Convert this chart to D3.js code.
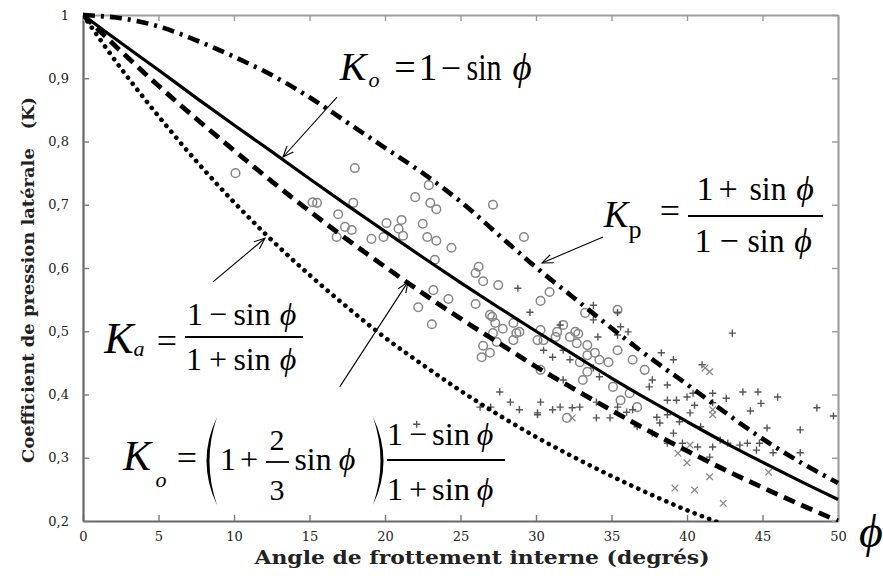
<!DOCTYPE html>
<html><head><meta charset="utf-8">
<script src="https://cdn.jsdelivr.net/npm/d3@7"></script>
<style>body{margin:0;background:#fff}</style>
</head><body><svg id="c" width="883" height="576"></svg>
<script>
// ---------- data ----------
const phiGrid = [0,2.5,5,7.5,10,12.5,15,17.5,20,22.5,25,27.5,30,32.5,35,37.5,40,42.5,45,47.5,50];
const kSolid   = [1,0.956,0.913,0.869,0.826,0.784,0.741,0.699,0.658,0.617,0.577,0.538,0.5,0.463,0.426,0.391,0.357,0.324,0.293,0.263,0.234];
const kDashed  = [1,0.943,0.888,0.836,0.786,0.737,0.690,0.645,0.602,0.560,0.520,0.482,0.444,0.409,0.375,0.342,0.311,0.281,0.253,0.226,0.200];
const kDotted  = [1,0.916,0.840,0.769,0.704,0.644,0.589,0.538,0.490,0.447,0.406,0.368,0.333,0.301,0.271,0.243,0.217,0.194];
const kDashDot = [1,0.995,0.982,0.960,0.934,0.905,0.870,0.830,0.790,0.750,0.705,0.653,0.601,0.553,0.505,0.459,0.416,0.372,0.330,0.293,0.260];

const circleData = [[10.1,0.750],[18.0,0.758],[15.2,0.704],[15.5,0.703],[17.9,0.703],[16.9,0.685],[17.35,0.665],[17.8,0.660],[16.8,0.649],[19.1,0.646],[19.9,0.649],[20.1,0.671],[21.1,0.676],[20.9,0.662],[21.2,0.651],[22.0,0.712],[22.9,0.731],[23.0,0.703],[23.4,0.693],[22.5,0.670],[22.8,0.649],[23.4,0.643],[24.4,0.632],[23.3,0.613],[26.2,0.602],[26.0,0.592],[26.5,0.579],[27.5,0.573],[27.15,0.700],[29.2,0.649],[23.2,0.565],[24.2,0.551],[22.2,0.538],[23.1,0.511],[26.0,0.543],[26.95,0.526],[27.3,0.513],[27.8,0.504],[28.5,0.513],[28.9,0.499],[30.3,0.548],[30.9,0.562],[30.3,0.502],[31.4,0.499],[31.8,0.510],[32.6,0.499],[32.25,0.491],[26.5,0.477],[27.4,0.483],[26.4,0.459],[26.95,0.466],[27.15,0.497],[28.7,0.497],[28.5,0.486],[30.1,0.486],[30.5,0.486],[31.3,0.491],[32.8,0.496],[32.7,0.481],[33.4,0.478],[33.9,0.466],[33.4,0.462],[34.2,0.455],[34.8,0.451],[32.9,0.451],[33.4,0.436],[35.4,0.470],[33.25,0.529],[35.4,0.534],[36.4,0.455],[37.2,0.439],[30.3,0.439],[32.05,0.363],[33.1,0.423],[35.1,0.412],[36.2,0.402],[35.6,0.391],[36.7,0.380],[27.1,0.523]];

const plusData = [[28.8,0.568],[29.6,0.530],[31.6,0.510],[33.8,0.541],[35.4,0.530],[33.8,0.518],[34.1,0.491],[35.6,0.507],[36.1,0.499],[35.4,0.494],[37.7,0.423],[37.5,0.412],[38.7,0.415],[39.3,0.391],[40.0,0.396],[38.3,0.466],[39.1,0.455],[41.0,0.447],[43.0,0.497],[40.4,0.402],[41.7,0.402],[42.6,0.394],[43.7,0.404],[44.7,0.404],[46.0,0.396],[48.6,0.379],[49.7,0.366],[44.2,0.374],[45.3,0.347],[44.0,0.323],[43.5,0.320],[44.6,0.312],[45.7,0.308],[47.5,0.344],[47.5,0.308],[38.7,0.391],[40.2,0.371],[40.9,0.349],[42.2,0.328],[27.6,0.404],[27.0,0.380],[28.3,0.388],[28.9,0.376],[30.3,0.388],[30.1,0.371],[31.1,0.376],[31.6,0.380],[32.9,0.380],[34.0,0.363],[34.0,0.388],[35.4,0.380],[36.4,0.376],[36.7,0.349],[38.2,0.355],[38.7,0.368],[39.5,0.357],[39.1,0.339],[37.7,0.339],[38.7,0.323],[39.7,0.323],[40.7,0.317],[41.7,0.317],[41.5,0.301],[42.7,0.323],[30.5,0.470],[31.1,0.459],[31.8,0.470],[32.25,0.455],[33.8,0.442],[34.2,0.428],[31.8,0.423],[26.3,0.380],[30.1,0.368],[32.4,0.379],[34.9,0.363],[36.0,0.372],[38.0,0.364],[40.5,0.383],[41.7,0.387],[44.8,0.323],[44.9,0.386],[22.1,0.353]];

const crossData = [[39.4,0.307],[40.0,0.292],[41.5,0.270],[39.2,0.252],[40.5,0.249],[42.4,0.228],[45.4,0.277],[41.7,0.376],[41.7,0.368],[32.4,0.363],[41.2,0.442],[41.5,0.436],[40.2,0.320]];

const xTicks = [0,5,10,15,20,25,30,35,40,45,50];
const yTicks = [0.2,0.3,0.4,0.5,0.6,0.7,0.8,0.9,1];
const xTitle = "Angle de frottement interne (degrés)";
const yTitle = "Coefficient de pression latérale\u00a0\u00a0\u00a0(K)";

// annotation arrows (start -> tip) in data units
const arrows = [
  [[16.82,0.870],[13.25,0.7755]],
  [[34.44,0.649],[30.4,0.608]],
  [[8.61,0.578],[12.05,0.647]],
  [[17.0,0.412],[21.52,0.578]]
];

// ---------- chart ----------
const svg = d3.select("#c");
svg.append("rect").attr("width",883).attr("height",576).attr("fill","#fff");
const L=83,R=838,T=15,B=521;
const x = d3.scaleLinear().domain([0,50]).range([L,R]);
const y = d3.scaleLinear().domain([0.2,1]).range([B,T]);

const defs = svg.append("defs");
defs.append("clipPath").attr("id","clip")
  .append("rect").attr("x",L).attr("y",T-3).attr("width",R-L+2).attr("height",B-T+4);
defs.append("marker").attr("id","arr").attr("viewBox","0 0 12 10").attr("refX",11).attr("refY",5)
  .attr("markerWidth",12).attr("markerHeight",10).attr("markerUnits","userSpaceOnUse").attr("orient","auto")
  .append("path").attr("d","M0,0.5 L11,5 L0,9.5").attr("fill","none").attr("stroke","#000").attr("stroke-width",1.1);

// axes frame
const tickFont = "'DejaVu Serif','Liberation Serif',serif";
const fmt = d => d===1 ? "1" : d3.format(".1f")(d).replace(".",",");
const gx = svg.append("g").attr("transform",`translate(0,${B})`)
  .call(d3.axisBottom(x).tickValues(xTicks).tickSizeInner(-6).tickSizeOuter(0).tickPadding(10.5));
const gy = svg.append("g").attr("transform",`translate(${L},0)`)
  .call(d3.axisLeft(y).tickValues(yTicks).tickFormat(fmt).tickSizeInner(-6).tickSizeOuter(0).tickPadding(14));
const gt = svg.append("g").attr("transform",`translate(0,${T})`)
  .call(d3.axisTop(x).tickValues(xTicks).tickSizeInner(-6).tickSizeOuter(0).tickFormat(""));
const gr = svg.append("g").attr("transform",`translate(${R},0)`)
  .call(d3.axisRight(y).tickValues(yTicks).tickSizeInner(-6).tickSizeOuter(0).tickFormat(""));
[gx,gy].forEach(g=>{
  g.select(".domain").attr("stroke","#666").attr("stroke-width",2.2);
  g.selectAll(".tick line").attr("stroke","#777").attr("stroke-width",1.4);
  g.selectAll("text").attr("font-family",tickFont).attr("font-size",13).attr("fill","#222");
});
[gt,gr].forEach(g=>{
  g.select(".domain").attr("stroke","#a0a0a0").attr("stroke-width",2.2);
  g.selectAll(".tick line").attr("stroke","#999").attr("stroke-width",1.4);
});

// scatter
const sc = svg.append("g");
sc.selectAll("circle.o").data(circleData).join("circle")
  .attr("cx",d=>x(d[0])).attr("cy",d=>y(d[1])).attr("r",4.3)
  .attr("fill","none").attr("stroke","#858585").attr("stroke-width",1.5);
const s=3.6;
sc.selectAll("path.p").data(plusData).join("path")
  .attr("d",d=>{const cx=x(d[0]),cy=y(d[1]);return `M${cx-s},${cy}H${cx+s}M${cx},${cy-s}V${cy+s}`;})
  .attr("stroke","#555").attr("stroke-width",1.4);
const c=3.3;
sc.selectAll("path.x").data(crossData).join("path")
  .attr("d",d=>{const cx=x(d[0]),cy=y(d[1]);return `M${cx-c},${cy-c}L${cx+c},${cy+c}M${cx-c},${cy+c}L${cx+c},${cy-c}`;})
  .attr("stroke","#8a8a8a").attr("stroke-width",1.3).attr("fill","none");

// curves
const cg = svg.append("g").attr("clip-path","url(#clip)");
const line = d3.line().x(d=>x(d[0])).y(d=>y(d[1])).curve(d3.curveCatmullRom.alpha(0.5));
const zip = ks => ks.map((k,i)=>[phiGrid[i],k]);
cg.append("path").attr("d",line(zip(kDotted))).attr("fill","none").attr("stroke","#000")
  .attr("stroke-width",4.6).attr("stroke-linecap","round").attr("stroke-dasharray","0.1 7.6");
cg.append("path").attr("d",line(zip(kDashed))).attr("fill","none").attr("stroke","#000")
  .attr("stroke-width",4.8).attr("stroke-dasharray","12 7");
cg.append("path").attr("d",line(zip(kDashDot))).attr("fill","none").attr("stroke","#000")
  .attr("stroke-width",4.6).attr("stroke-dasharray","12 6 3 6");
cg.append("path").attr("d",line(zip(kSolid))).attr("fill","none").attr("stroke","#000")
  .attr("stroke-width",3.2);

// arrows
svg.append("g").selectAll("line").data(arrows).join("line")
  .attr("x1",d=>x(d[0][0])).attr("y1",d=>y(d[0][1])).attr("x2",d=>x(d[1][0])).attr("y2",d=>y(d[1][1]))
  .attr("stroke","#000").attr("stroke-width",1.1).attr("marker-end","url(#arr)");

// formulas
const fg = svg.append("g").attr("fill","#000");
const mathFont = "'Liberation Serif','Times New Roman',serif";
function t(txt,cx,by,size,italic,len){
  const el = fg.append("text").attr("x",cx).attr("y",by).attr("text-anchor","middle")
    .attr("font-family",mathFont).attr("font-size",size).attr("font-style",italic?"italic":"normal").text(txt);
  if(len) el.attr("textLength",len).attr("lengthAdjust","spacingAndGlyphs");
}
function hl(x1,x2,yy){ fg.append("line").attr("x1",x1).attr("x2",x2).attr("y1",yy).attr("y2",yy).attr("stroke","#000").attr("stroke-width",1.8); }
const PHI="\u03D5";
// K_o = 1 - sin phi
t("K",353,80,40,true); t("o",374,87,22,true); t("=",405,80,38); t("1",428,80,37); t("\u2212",451,80,36); t("sin",484,80,37,false,35); t(PHI,522,80,37,true);
// K_p
t("K",616,227,37,true); t("p",635,238,26); t("=",670,223,36); hl(688,823,216);
t("1",705,200,34); t("+",728,200,34); t("sin",768,200,34,false,37); t(PHI,805,200,34,true);
t("1",703,252,34); t("\u2212",729,252,34); t("sin",766,252,34,false,37); t(PHI,803,252,34,true);
// K_a
t("K",119,353,44,true); t("a",139,356,22,true); t("=",167,353,36); hl(185,303,337);
t("1",195,325,32); t("\u2212",218,325,32); t("sin",252,325,32,false,37); t(PHI,288,325,32,true);
t("1",194,370,32); t("+",218,370,32); t("sin",252,370,32,false,37); t(PHI,288,370,32,true);
// K_o Jaky
t("K",137,470,42,true); t("o",161,487,22,true); t("=",187,470,36);
fg.append("path").attr("d","M217,417 Q196,461 217,505 Q202,461 217,417 Z");
t("1",228,470,32); t("+",249,470,32);
t("2",277,450,30); t("3",277,500,30); hl(266,289,462);
t("sin",313,470,32,false,37); t(PHI,347,470,32,true);
fg.append("path").attr("d","M373,417 Q394,461 373,505 Q388,461 373,417 Z");
hl(387,505,460);
t("1",395,445,32); t("\u2212",418,445,32); t("sin",451,445,32,false,38); t(PHI,485,445,32,true);
t("1",395,500,32); t("+",418,500,32); t("sin",451,500,32,false,38); t(PHI,485,500,32,true);
// phi axis symbol
t(PHI,871,547,46,true);

// axis titles
svg.append("text").attr("x",482).attr("y",564).attr("text-anchor","middle")
  .attr("font-family",tickFont).attr("font-weight","bold").attr("font-size",19).attr("fill","#222")
  .attr("textLength",455).attr("lengthAdjust","spacingAndGlyphs").text(xTitle);
svg.append("text").attr("transform","translate(34,280) rotate(-90)").attr("text-anchor","middle")
  .attr("font-family",tickFont).attr("font-weight","bold").attr("font-size",16).attr("fill","#222")
  .attr("textLength",366).attr("lengthAdjust","spacingAndGlyphs").text(yTitle);
</script></body></html>
